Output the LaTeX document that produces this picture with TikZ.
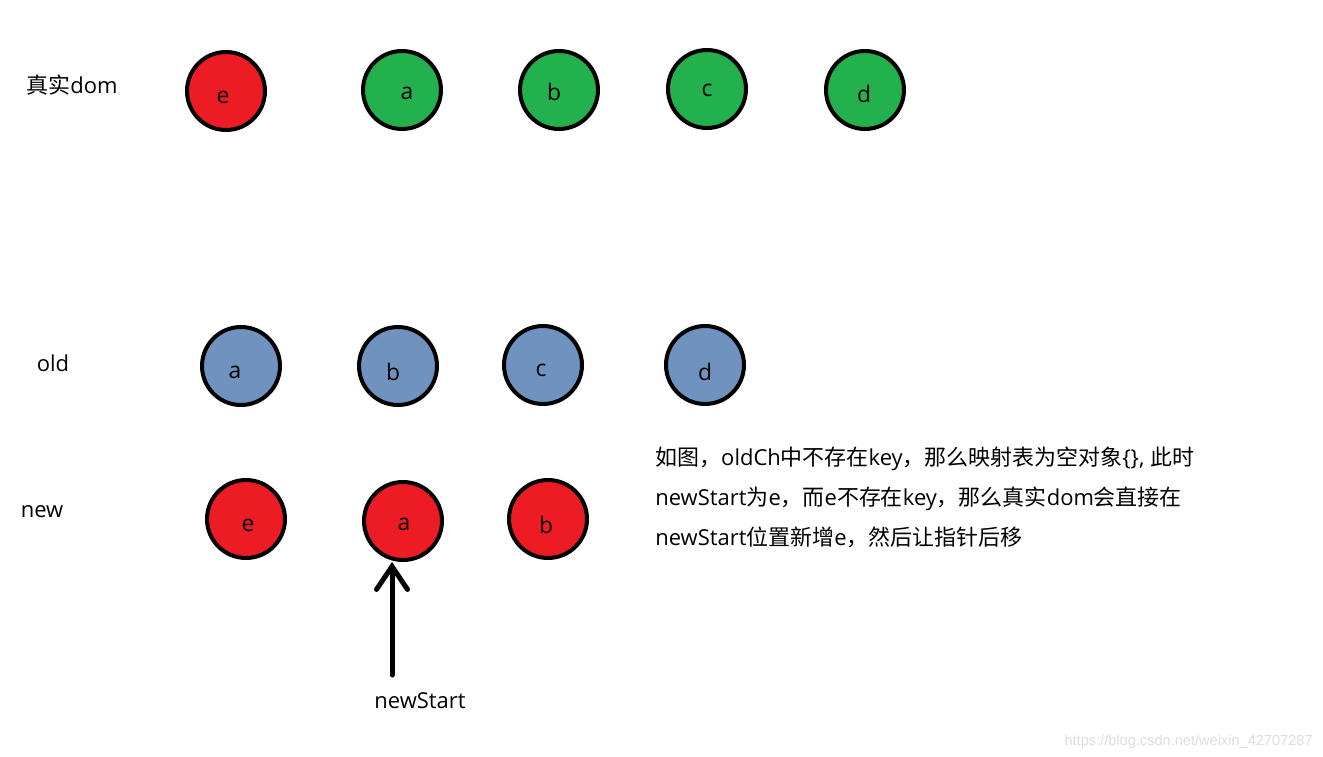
\documentclass[tikz,border=0pt]{standalone}
\usepackage{fontspec}
\setmainfont{Open Sans}
\newfontfamily\cjk{Noto Sans CJK SC}
\newfontfamily\wmfont{Liberation Sans}
\usetikzlibrary{arrows.meta}
\definecolor{pred}{HTML}{ED1C24}
\definecolor{pgreen}{HTML}{22B14C}
\definecolor{pblue}{HTML}{7092BE}
\definecolor{wmgray}{HTML}{DEDEDE}
\begin{document}
\begin{tikzpicture}[x=0.02cm,y=-0.02cm,
  ball/.style={circle,draw=black,line width=0.08cm,minimum size=1.56cm,inner sep=0pt},
  redball/.style={ball,fill=pred},
  greenball/.style={ball,fill=pgreen},
  blueball/.style={ball,fill=pblue},
  lbl/.style={inner sep=0pt,font=\fontsize{13}{15}\selectfont},
  rowlbl/.style={inner sep=0pt,font=\fontsize{12.5}{15}\selectfont},
  txt/.style={inner sep=0pt,anchor=base west,font=\fontsize{12.5}{15}\selectfont},
  ptr/.style={line width=0.1cm,line cap=round,-{Straight Barb[length=0.46cm,width=0.62cm,line cap=round]}}
]
\useasboundingbox[fill=white] (0,0) rectangle (1323,757);

% row labels
\node[rowlbl] (lreal) at (72,85) {{\cjk 真实}dom};
\node[rowlbl] (lold) at (53,363) {old};
\node[rowlbl] (lnew) at (42,512) {new};

% real dom row
\node[redball]   (re) at (226,91) {};
\node[greenball] (ra) at (402,90) {};
\node[greenball] (rb) at (559,90) {};
\node[greenball] (rc) at (707,89) {};
\node[greenball] (rd) at (865,90) {};
\node[lbl] at (223,97) {e};
\node[lbl] at (407,93) {a};
\node[lbl] at (554,92) {b};
\node[lbl] at (707,90) {c};
\node[lbl] at (864,94) {d};

% old row
\node[blueball] (oa) at (241,366) {};
\node[blueball] (ob) at (398,366) {};
\node[blueball] (oc) at (543,365) {};
\node[blueball] (od) at (705,365) {};
\node[lbl] at (235,372) {a};
\node[lbl] at (393,372) {b};
\node[lbl] at (541,370) {c};
\node[lbl] at (705,372) {d};

% new row
\node[redball] (ne) at (246,519) {};
\node[redball] (na) at (403,521) {};
\node[redball] (nb) at (548,519) {};
\node[lbl] at (248,525) {e};
\node[lbl] at (404,524) {a};
\node[lbl] at (546,525) {b};

% pointer
\coordinate (pbase) at (392,675);
\draw[ptr] (pbase) -- (pbase |- na.south);
\node[rowlbl] (lns) at (420,701) {newStart};

% explanation
\node[txt] (t1) at (655,465) {{\cjk 如图，}oldCh{\cjk 中不存在}key{\cjk ，那么映射表为空对象}\{\}, {\cjk 此时}};
\node[txt] (t2) at (655,505) {newStart{\cjk 为}e{\cjk ，而}e{\cjk 不存在}key{\cjk ，那么真实}dom{\cjk 会直接在}};
\node[txt] (t3) at (655,545) {newStart{\cjk 位置新增}e{\cjk ，然后让指针后移}};

% watermark
\node[inner sep=0pt,anchor=base east,text=wmgray,font=\wmfont\fontsize{8.3}{10}\selectfont] (wm) at (1313,745) {https://blog.csdn.net/weixin\_42707287};
\end{tikzpicture}
\end{document}
